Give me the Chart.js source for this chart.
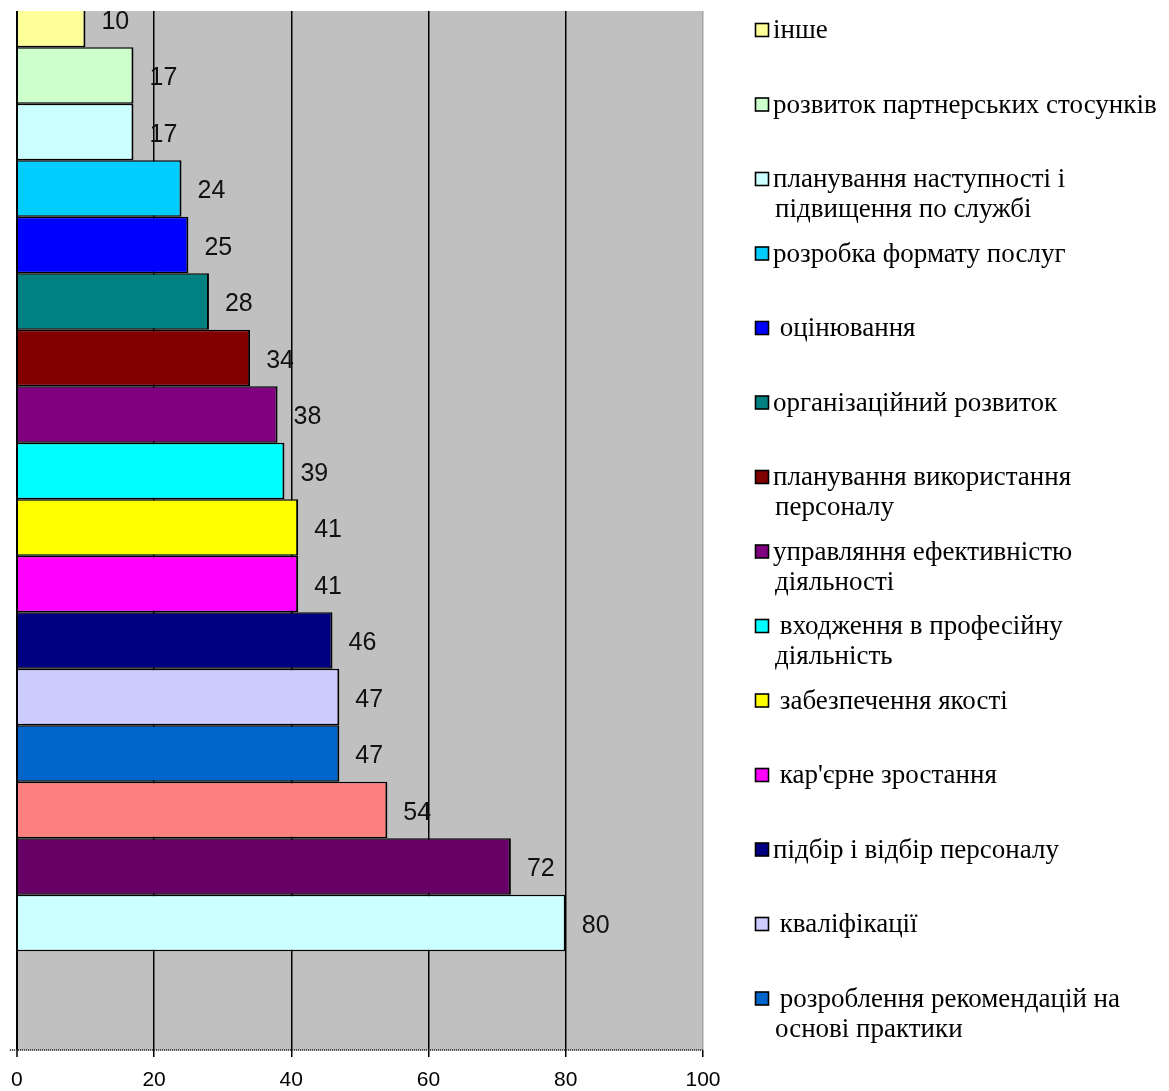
<!DOCTYPE html>
<html>
<head>
<meta charset="utf-8">
<script src="https://cdn.jsdelivr.net/npm/chart.js@4.4.1/dist/chart.umd.min.js"></script>
<style>
  html, body { margin: 0; padding: 0; background: #ffffff; }
  #wrap { position: relative; width: 1169px; height: 1091px; }
</style>
</head>
<body>
<div id="wrap"><canvas id="chart" width="1169" height="1091"></canvas></div>
<script>
// Survey results: number of answers per development area (top to bottom)
const values = [10, 17, 17, 24, 25, 28, 34, 38, 39, 41, 41, 46, 47, 47, 54, 72, 80];

const barColors = [
  '#FFFF99', '#CCFFCC', '#CCFFFF', '#00CCFF', '#0000FF', '#008080',
  '#800000', '#800080', '#00FFFF', '#FFFF00', '#FF00FF', '#000080',
  '#CCCCFF', '#0066CC', '#FF8080', '#660066', '#CCFFFF'
];

// Legend entries (multi-line entries are given as arrays of lines)
const legendNames = [
  'інше',
  'розвиток партнерських стосунків',
  ['планування наступності і', 'підвищення по службі'],
  'розробка формату послуг',
  ' оцінювання',
  'організаційний розвиток',
  ['планування використання', 'персоналу'],
  ['управляння ефективністю', 'діяльності'],
  [' входження в професійну', 'діяльність'],
  ' забезпечення якості',
  " кар'єрне зростання",
  'підбір і відбір персоналу',
  ' кваліфікації',
  [' розроблення рекомендацій на', 'основі практики']
];

const xTicks = [0, 20, 40, 60, 80, 100];

const SANS = '"Liberation Sans", Arial, sans-serif';
const SERIF = '"Liberation Serif", "Times New Roman", serif';

// Grey plot-area background
const plotBackground = {
  id: 'plotBackground',
  beforeDraw(chart) {
    const { ctx, chartArea: a } = chart;
    ctx.save();
    ctx.fillStyle = '#C0C0C0';
    ctx.fillRect(a.left, a.top, a.right - a.left, a.bottom - a.top);
    ctx.restore();
  }
};

// Dotted category axis line along the bottom of the plot
const bottomAxisLine = {
  id: 'bottomAxisLine',
  afterDatasetsDraw(chart) {
    const { ctx, chartArea: a } = chart;
    ctx.save();
    ctx.strokeStyle = '#333';
    ctx.lineWidth = 2;
    ctx.setLineDash([1, 1]);
    ctx.beginPath();
    ctx.moveTo(a.left - 7, a.bottom);
    ctx.lineTo(a.right, a.bottom);
    ctx.stroke();
    ctx.restore();
  }
};

// Value labels to the right of each bar
const valueLabels = {
  id: 'valueLabels',
  afterDatasetsDraw(chart) {
    const { ctx } = chart;
    const meta = chart.getDatasetMeta(0);
    ctx.save();
    ctx.font = '25px ' + SANS;
    ctx.fillStyle = '#111';
    ctx.textAlign = 'left';
    ctx.textBaseline = 'middle';
    meta.data.forEach((bar, i) => {
      ctx.fillText(String(values[i]), bar.x + 16, bar.y + 3);
    });
    ctx.restore();
  }
};

// Legend column on the right
const sideLegend = {
  id: 'sideLegend',
  afterDraw(chart) {
    const { ctx } = chart;
    const boxX = 755.5, boxSize = 13, textX = 773, firstY = 30, step = 74.5, lineH = 30;
    ctx.save();
    ctx.font = '27px ' + SERIF;
    ctx.textAlign = 'left';
    ctx.textBaseline = 'middle';
    legendNames.forEach((name, i) => {
      const cy = firstY + i * step;
      ctx.fillStyle = barColors[i];
      ctx.fillRect(boxX, cy - boxSize / 2, boxSize, boxSize);
      ctx.lineWidth = 1.6;
      ctx.strokeStyle = '#000';
      ctx.strokeRect(boxX, cy - boxSize / 2, boxSize, boxSize);
      ctx.fillStyle = '#000';
      const lines = Array.isArray(name) ? name : [name];
      lines.forEach((line, j) => {
        ctx.fillText(line, j === 0 ? textX : textX + 2, cy + j * lineH + 1);
      });
    });
    ctx.restore();
  }
};

new Chart(document.getElementById('chart'), {
  type: 'bar',
  data: {
    datasets: [{
      data: values.map((v, i) => ({ x: v, y: i })),
      backgroundColor: barColors,
      borderColor: '#000',
      borderWidth: { top: 1.5, bottom: 1.5, right: 2, left: 0 },
      categoryPercentage: 1,
      barPercentage: 1,
      inflateAmount: 0,
      clip: 0
    }]
  },
  options: {
    indexAxis: 'y',
    responsive: false,
    animation: false,
    devicePixelRatio: 1,
    layout: { padding: { left: 16, right: 466, top: 11, bottom: 0 } },
    plugins: { legend: { display: false }, tooltip: { enabled: false } },
    scales: {
      x: {
        type: 'linear',
        min: 0,
        max: 100,
        afterBuildTicks: s => { s.ticks = xTicks.map(v => ({ value: v })); },
        afterFit: s => { s.height = 41; },
        grid: {
          color: c => (c.tick && c.tick.value === 100) ? '#a4a4a4' : '#000',
          lineWidth: c => (c.tick && c.tick.value === 0) ? 2 : 1.5,
          drawTicks: true,
          tickLength: 7,
          tickColor: '#000',
          tickWidth: 1.5
        },
        border: { display: false },
        ticks: { padding: 11, color: '#000', font: { family: SANS, size: 21 } }
      },
      y: {
        type: 'linear',
        reverse: true,
        offset: false,
        grid: { offset: false },
        min: -0.14,
        max: 18.25,
        display: false,
        afterBuildTicks: s => { s.ticks = values.map((v, i) => ({ value: i })); }
      }
    }
  },
  plugins: [plotBackground, bottomAxisLine, valueLabels, sideLegend]
});
</script>
</body>
</html>
